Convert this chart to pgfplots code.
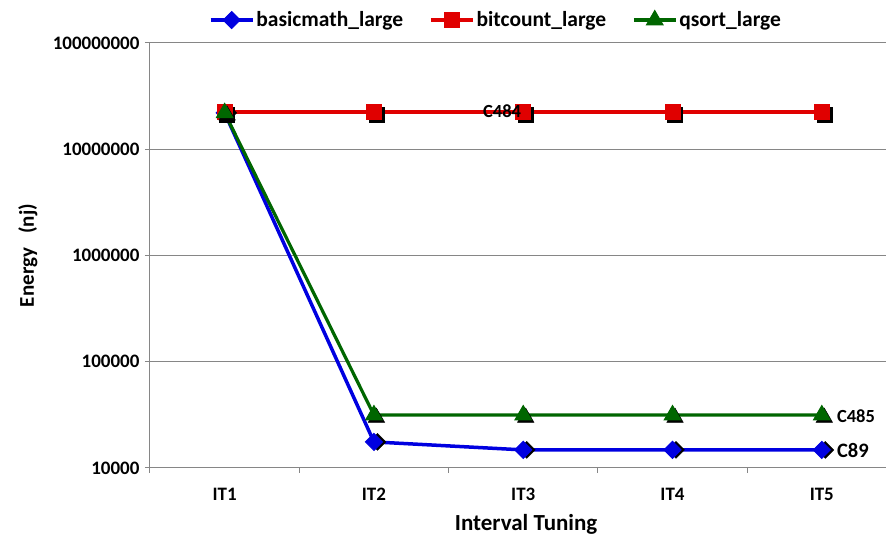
\documentclass[border=0pt]{standalone}
\usepackage{pgfplots}
\pgfplotsset{compat=1.18}
\usepackage{fontspec}
\setmainfont{Carlito}
\definecolor{cblue}{RGB}{0,0,224}
\definecolor{cred}{RGB}{224,0,0}
\definecolor{cgreen}{RGB}{0,102,0}
\definecolor{axgray}{RGB}{134,134,134}
\begin{document}
\begin{tikzpicture}[x=1pt,y=1pt]
\useasboundingbox (0,0) rectangle (886,535);
\begin{axis}[
  at={(150pt,67pt)}, anchor=south west,
  scale only axis, width=736pt, height=425pt,
  ymode=log, ymin=1e4, ymax=1e8,
  xmin=0.5, xmax=5.43,
  axis x line*=bottom, axis y line*=left,
  axis line style={draw=axgray, line width=1pt, -},
  ytick={1e4,1e5,1e6,1e7,1e8},
  yticklabels={10000,100000,1000000,10000000,100000000},
  xtick={0.5,1.5,2.5,3.5,4.5}, xticklabels={},
  extra x ticks={1,2,3,4,5}, extra x tick labels={IT1,IT2,IT3,IT4,IT5},
  extra x tick style={major tick length=0pt, grid=none},
  tick align=outside, major tick length=5pt, minor tick length=0pt,
  tick style={draw=axgray, line width=1pt},
  ymajorgrids, grid style={draw=axgray, line width=1pt},
  ticklabel style={font=\fontsize{19}{22}\selectfont\bfseries},
  xticklabel style={yshift=-17pt},
  yticklabel style={xshift=-2pt},
  xlabel={Interval Tuning}, ylabel={Energy\ \ \ (nj)},
  every axis x label/.style={at={(axis description cs:0.511,0)}, anchor=base, yshift=-63pt,
    font=\fontsize{23}{26}\selectfont\bfseries},
  every axis y label/.style={at={(axis description cs:-0.1658,0.5)}, rotate=90, anchor=center,
    font=\fontsize{21}{24}\selectfont\bfseries},
  legend style={at={(0.470,1.054)}, anchor=center, draw=none, fill=none,
    legend columns=3, font=\fontsize{21.5}{24}\selectfont\bfseries,
    /tikz/every even column/.append style={column sep=24pt}},
  legend image code/.code={\draw[mark repeat=2,mark phase=2] plot coordinates {(0pt,0pt)(21pt,0pt)(42pt,0pt)};},
  clip=false,
]
% basicmath_large
\addplot[forget plot, only marks, black, mark=square*, mark size=6pt,
  mark options={rotate=45, xshift=2.5pt, yshift=-2.5pt}]
  coordinates {(1,2.2e7) (2,1.76e4) (3,1.48e4) (4,1.48e4) (5,1.48e4)};
\addplot[cblue, line width=3.5pt, mark=square*, mark size=6pt,
  mark options={rotate=45, line width=1pt}]
  coordinates {(1,2.2e7) (2,1.76e4) (3,1.48e4) (4,1.48e4) (5,1.48e4)};
\addlegendentry{basicmath\_large}
% bitcount_large
\addplot[forget plot, only marks, black, mark=square*, mark size=7.5pt,
  mark options={xshift=2.5pt, yshift=-2.5pt}]
  coordinates {(1,2.24e7) (2,2.24e7) (3,2.24e7) (4,2.24e7) (5,2.24e7)};
\addplot[cred, line width=3.5pt, mark=square*, mark size=7.5pt,
  mark options={line width=1pt}]
  coordinates {(1,2.24e7) (2,2.24e7) (3,2.24e7) (4,2.24e7) (5,2.24e7)};
\addlegendentry{bitcount\_large}
% qsort_large
\addplot[forget plot, only marks, black, mark=triangle*, mark size=9.5pt,
  mark options={xshift=2.5pt, yshift=-2.5pt}]
  coordinates {(1,2.2e7) (2,3.15e4) (3,3.15e4) (4,3.15e4) (5,3.15e4)};
\addplot[cgreen, line width=3.2pt, mark=triangle*, mark size=9.5pt,
  mark options={line width=1pt}]
  coordinates {(1,2.2e7) (2,3.15e4) (3,3.15e4) (4,3.15e4) (5,3.15e4)};
\addlegendentry{qsort\_large}
\coordinate (c484) at (axis cs:3,2.3e7);
\coordinate (c485) at (axis cs:5,3.1e4);
\coordinate (c89) at (axis cs:5,1.45e4);
\end{axis}
\node[anchor=east, inner sep=0pt, font=\fontsize{18.5}{22}\selectfont\bfseries] at (c484) [xshift=-2pt] {C484};
\node[anchor=west, inner sep=0pt, font=\fontsize{18.5}{22}\selectfont\bfseries] at (c485) [xshift=15pt] {C485};
\node[anchor=west, inner sep=0pt, font=\fontsize{20.5}{24}\selectfont\bfseries] at (c89) [xshift=15pt] {C89};
\end{tikzpicture}
\end{document}
